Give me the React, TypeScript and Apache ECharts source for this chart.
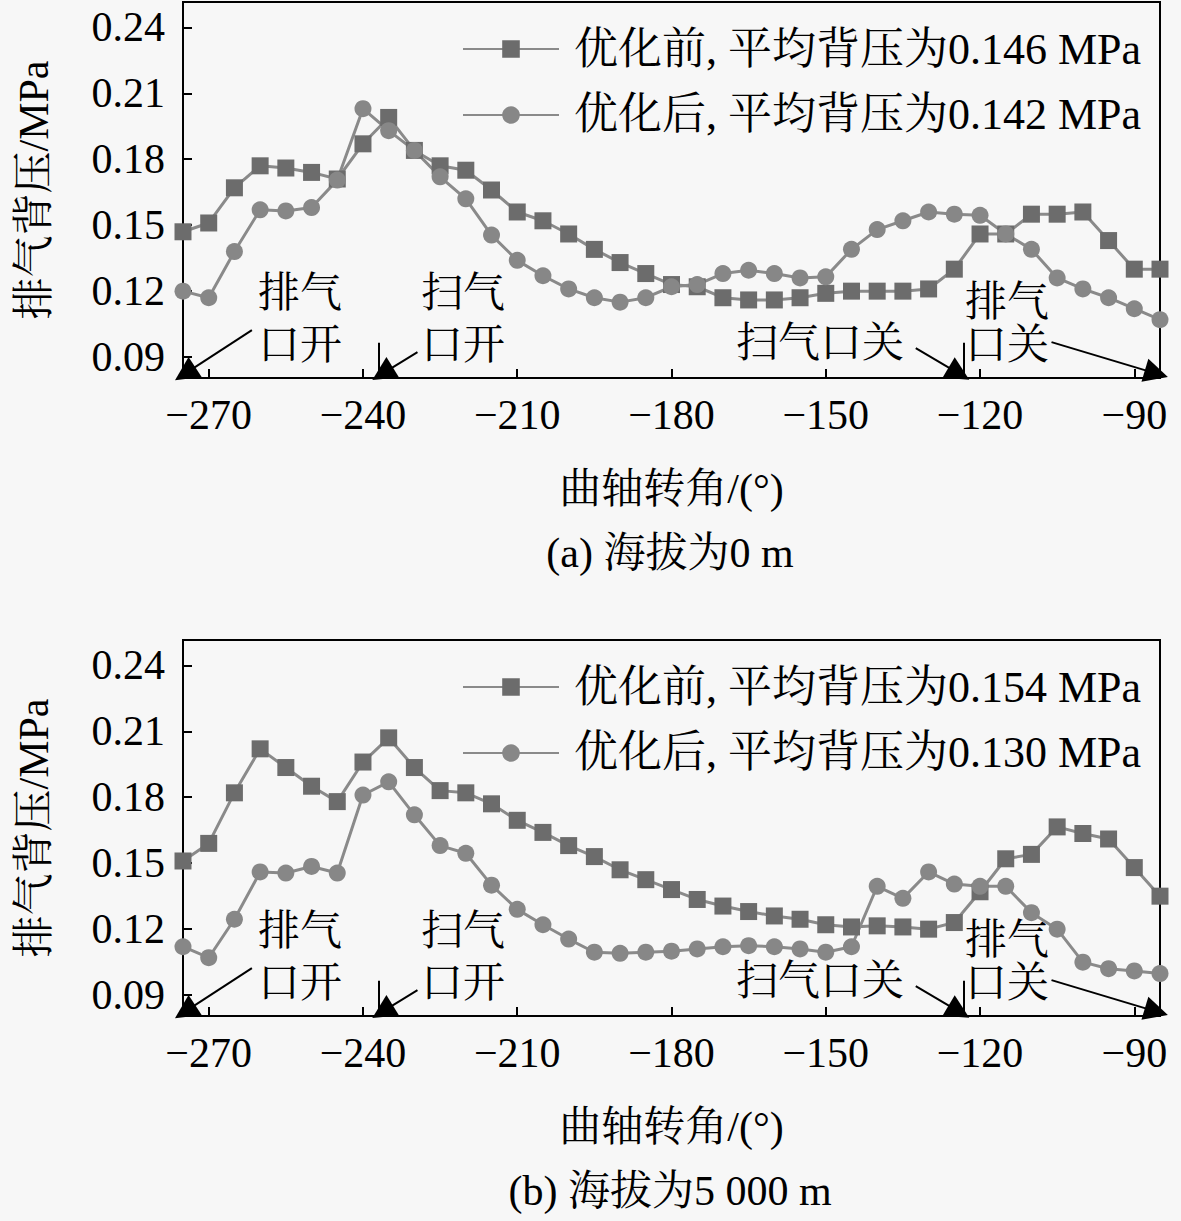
import React, { useEffect, useRef } from "react";
import * as echarts from "echarts";

// Crank angle (°), one point every 5°
const crankAngle = [
  -275, -270, -265, -260, -255, -250, -245, -240, -235, -230, -225, -220, -215,
  -210, -205, -200, -195, -190, -185, -180, -175, -170, -165, -160, -155, -150,
  -145, -140, -135, -130, -125, -120, -115, -110, -105, -100, -95, -90, -85,
];

// (a) altitude 0 m
const topBefore = [
  0.147, 0.151, 0.167, 0.177, 0.176, 0.174, 0.171, 0.187, 0.199, 0.184, 0.177, 0.175, 0.166,
  0.156, 0.152, 0.146, 0.139, 0.133, 0.128, 0.123, 0.122, 0.117, 0.116, 0.116, 0.117, 0.119,
  0.12, 0.12, 0.12, 0.121, 0.13, 0.146, 0.146, 0.155, 0.155, 0.156, 0.143, 0.13, 0.13,
];
const topAfter = [
  0.12, 0.117, 0.138, 0.157, 0.1565, 0.158, 0.1705, 0.203, 0.193, 0.184, 0.172, 0.162, 0.1455,
  0.134, 0.127, 0.121, 0.117, 0.115, 0.117, 0.122, 0.123, 0.128, 0.1295, 0.128, 0.126, 0.1265,
  0.139, 0.148, 0.152, 0.156, 0.155, 0.1545, 0.146, 0.139, 0.126, 0.121, 0.117, 0.112, 0.107,
];

// (b) altitude 5 000 m
const bottomBefore = [
  0.151, 0.159, 0.182, 0.202, 0.1935, 0.185, 0.178, 0.196, 0.207, 0.1935, 0.183, 0.182, 0.177,
  0.1695, 0.164, 0.158, 0.153, 0.147, 0.1425, 0.138, 0.1335, 0.1305, 0.128, 0.126, 0.1245, 0.122,
  0.121, 0.1215, 0.121, 0.12, 0.123, 0.137, 0.152, 0.154, 0.1665, 0.1635, 0.161, 0.148, 0.135,
];
const bottomAfter = [
  0.112, 0.107, 0.1245, 0.146, 0.1455, 0.1485, 0.1455, 0.181, 0.187, 0.172, 0.158, 0.1545, 0.14,
  0.129, 0.122, 0.1155, 0.1095, 0.109, 0.1095, 0.11, 0.111, 0.112, 0.1125, 0.112, 0.111, 0.1095,
  0.112, 0.1395, 0.134, 0.146, 0.1405, 0.1395, 0.1395, 0.1275, 0.12, 0.105, 0.102, 0.101, 0.0998,
];

const xTicks = [-270, -240, -210, -180, -150, -120, -90];
const yTicks = [0.09, 0.12, 0.15, 0.18, 0.21, 0.24];

const topNames = ["优化前, 平均背压为0.146 MPa", "优化后, 平均背压为0.142 MPa"];
const bottomNames = ["优化前, 平均背压为0.154 MPa", "优化后, 平均背压为0.130 MPa"];
const captions = ["(a) 海拔为0 m", "(b) 海拔为5 000 m"];

// event markers: [label start, arrow tip] in data coords
const arrows = [
  [[-261.6, 0.1023], [-274.6, 0.0825]],
  [[-229.4, 0.0923], [-236.2, 0.0825]],
  [[-132.5, 0.0941], [-124.1, 0.0825]],
  [[-106.1, 0.0968], [-85.7, 0.0825]],
];
const portLines = [-237, -123.2];

const FONT = "'Times New Roman', 'Liberation Serif', 'Noto Serif CJK SC', 'Noto Sans CJK SC', serif";
const FS = 42;

const GRID_LEFT = 183;
const GRID_W = 977;
const GRID_H = 376;
const GRID_TOPS = [2, 640];

function App() {
  const ref = useRef<HTMLDivElement>(null);

  useEffect(() => {
    if (!ref.current) return;
    const chart = echarts.init(ref.current, undefined, { renderer: "svg" });

    const grids = GRID_TOPS.map((t) => ({
      left: GRID_LEFT,
      top: t,
      width: GRID_W,
      height: GRID_H,
      show: true,
      borderColor: "#000",
      borderWidth: 2,
      backgroundColor: "transparent",
    }));

    const xAxes = [0, 1].map((i) => ({
      gridIndex: i,
      type: "value",
      min: -275,
      max: -85,
      axisLine: { show: true, onZero: false, lineStyle: { color: "#000", width: 2 } },
      axisTick: { show: true, inside: true, length: 9, customValues: xTicks, lineStyle: { color: "#000", width: 2 } },
      axisLabel: {
        customValues: xTicks,
        fontSize: FS,
        color: "#000",
        fontFamily: FONT,
        margin: 16,
        formatter: (v: number) => String(v).replace("-", "\u2212"),
      },
      splitLine: { show: false },
      name: "曲轴转角/(°)",
      nameLocation: "middle",
      nameGap: 90,
      nameTextStyle: { fontSize: FS, color: "#000", fontFamily: FONT },
    }));

    const yAxes = [0, 1].map((i) => ({
      gridIndex: i,
      type: "value",
      min: 0.0805,
      max: 0.2515,
      axisLine: { show: true, lineStyle: { color: "#000", width: 2 } },
      axisTick: { show: true, inside: true, length: 9, customValues: yTicks, lineStyle: { color: "#000", width: 2 } },
      axisLabel: {
        customValues: yTicks,
        fontSize: FS,
        color: "#000",
        fontFamily: FONT,
        margin: 18,
        formatter: (v: number) => v.toFixed(2),
      },
      splitLine: { show: false },
      name: "排气背压/MPa",
      nameLocation: "middle",
      nameGap: 128,
      nameTextStyle: { fontSize: FS, color: "#000", fontFamily: FONT },
    }));

    const markLineFor = () => ({
      silent: true,
      animation: false,
      label: { show: false },
      lineStyle: { color: "#000", width: 2, type: "solid" },
      symbol: ["none", "triangle"],
      symbolSize: 24,
      data: [
        ...arrows.map((a) => [
          { coord: a[0], symbol: "none" },
          { coord: a[1], symbol: "triangle", symbolSize: 24 },
        ]),
        ...portLines.map((x) => [
          { coord: [x, 0.0965], symbol: "none" },
          { coord: [x, 0.0805], symbol: "none" },
        ]),
      ],
    });

    const mkSeries = (name: string, data: number[], idx: number, square: boolean, withMarks: boolean) => ({
      name,
      type: "line",
      xAxisIndex: idx,
      yAxisIndex: idx,
      data: crankAngle.map((x, i) => [x, data[i]]),
      symbol: square ? "rect" : "circle",
      symbolSize: square ? 17 : 17,
      showAllSymbol: true,
      itemStyle: { color: square ? "#6c6c6c" : "#878787" },
      lineStyle: { color: "#8a8a8a", width: 3 },
      clip: true,
      markLine: withMarks ? markLineFor() : undefined,
    });

    const series = [
      mkSeries(topNames[0], topBefore, 0, true, true),
      mkSeries(topNames[1], topAfter, 0, false, false),
      mkSeries(bottomNames[0], bottomBefore, 1, true, true),
      mkSeries(bottomNames[1], bottomAfter, 1, false, false),
    ];

    const legends = [topNames, bottomNames].map((names, i) => ({
      data: names,
      orient: "vertical",
      left: 457,
      top: GRID_TOPS[i] + 20,
      itemWidth: 96,
      itemHeight: 22,
      itemGap: 22,
      selectedMode: false,
      textStyle: { fontSize: 44, color: "#000", fontFamily: FONT, padding: [0, 0, 0, 10] },
    }));

    const annText = (text: string, x: number, y: number, lh: number) => ({
      type: "text",
      x,
      y,
      silent: true,
      style: {
        text,
        fill: "#000",
        fontSize: FS,
        fontFamily: FONT,
        lineHeight: lh,
        textAlign: "left",
        textVerticalAlign: "top",
      },
    });

    const graphic: any[] = [];
    GRID_TOPS.forEach((t, i) => {
      const off = t - 2;
      graphic.push(annText("排气\n口开", 258, 267 + off, 52));
      graphic.push(annText("扫气\n口开", 421, 267 + off, 52));
      graphic.push(annText("扫气口关", 736, 322 + off, 42));
      graphic.push(annText("排气\n口关", 965, 280 + off, 43));
      graphic.push({
        type: "text",
        x: 670,
        y: 553 + off,
        silent: true,
        style: {
          text: captions[i],
          fill: "#000",
          fontSize: FS,
          fontFamily: FONT,
          textAlign: "center",
          textVerticalAlign: "middle",
        },
      });
    });

    chart.setOption({
      animation: false,
      backgroundColor: "#f7f7f7",
      textStyle: { fontFamily: FONT },
      grid: grids,
      xAxis: xAxes,
      yAxis: yAxes,
      legend: legends,
      series,
      graphic,
    });

    return () => chart.dispose();
  }, []);

  return (
    <div
      ref={ref}
      style={{ position: "absolute", left: 0, top: 0, width: 1181, height: 1221 }}
    />
  );
}

export default App;
